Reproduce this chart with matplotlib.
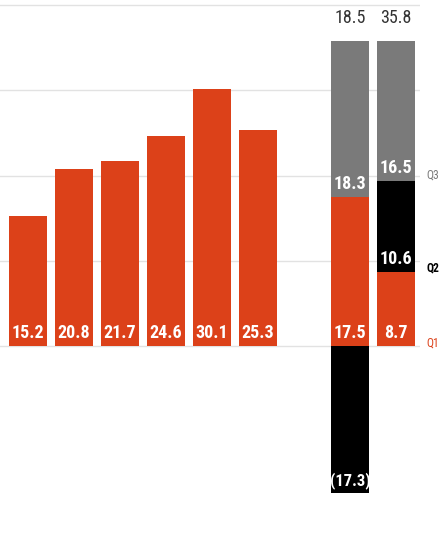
import matplotlib
matplotlib.use('Agg')

import matplotlib.pyplot as plt

RED = '#dc4119'
GREY = '#7a7a7a'
BLACK = '#000000'

FONT = ['Roboto Condensed', 'DejaVu Sans']
plt.rcParams['font.family'] = FONT
plt.rcParams['font.stretch'] = 'condensed'

# yearly values (single bars)
years = ['Y1', 'Y2', 'Y3', 'Y4', 'Y5', 'Y6']
yearly = [15.2, 20.8, 21.7, 24.6, 30.1, 25.3]

# quarterly breakdown for the last two periods (stacked bars)
q1 = [17.5, 8.7]
q2 = [-17.3, 10.6]
q3 = [18.3, 16.5]
totals = [18.5, 35.8]
quarter_names = ['Q1', 'Q2', 'Q3']

fig = plt.figure(figsize=(4.43, 5.39), dpi=100)
ax = fig.add_axes([0, 0, 420 / 443, 1])

width = 0.83
x_single = list(range(len(yearly)))
x_stack = [len(yearly) + 1, len(yearly) + 2]

for y in [0, 10, 20, 30, 40]:
    ax.axhline(y, color='#e2e2e2', lw=1.0, zorder=0)

lbl = dict(color='white', fontsize=13, fontweight='bold', ha='center',
           va='bottom', zorder=5, fontstretch='condensed')
pad = 0.5

ax.bar(x_single, yearly, width=width, color=RED, zorder=2)
for x, v in zip(x_single, yearly):
    ax.text(x, pad, f'{v:.1f}', **lbl)

for i, x in enumerate(x_stack):
    # Q1
    ax.bar(x, q1[i], width=width, bottom=0, color=RED, zorder=2)
    ax.text(x, pad, f'{q1[i]:.1f}', **lbl)
    pos_base = q1[i]
    # Q2 (negative values hang below zero, shown in brackets)
    if q2[i] < 0:
        ax.bar(x, q2[i], width=width, bottom=0, color=BLACK, zorder=2)
        ax.text(x, q2[i] + pad, f'({abs(q2[i]):.1f})',
                **{**lbl, 'fontsize': 12})
    else:
        ax.bar(x, q2[i], width=width, bottom=pos_base, color=BLACK, zorder=2)
        ax.text(x, pos_base + pad, f'{q2[i]:.1f}', **lbl)
        pos_base += q2[i]
    # Q3
    ax.bar(x, q3[i], width=width, bottom=pos_base, color=GREY, zorder=2)
    ax.text(x, pos_base + pad, f'{q3[i]:.1f}', **lbl)
    top = pos_base + q3[i]
    ax.text(x, top + 1.6, f'{totals[i]:.1f}', color='#333333', fontsize=13,
            ha='center', va='bottom', zorder=5, fontstretch='condensed')

# quarter key on the right edge
for name, y, c, w in zip(quarter_names, [0.4, 9.2, 20.1],
                         [RED, BLACK, GREY], ['normal', 'bold', 'normal']):
    ax.text(1.015, y, name, color=c, fontsize=8.5, fontweight=w,
            ha='left', va='center', transform=ax.get_yaxis_transform(),
            clip_on=False, fontstretch='condensed')

ax.set_xlim(-0.61, 8.52)
ax.set_ylim(-22.64, 40.59)
ax.axis('off')

fig.savefig('out.png', dpi=100)
